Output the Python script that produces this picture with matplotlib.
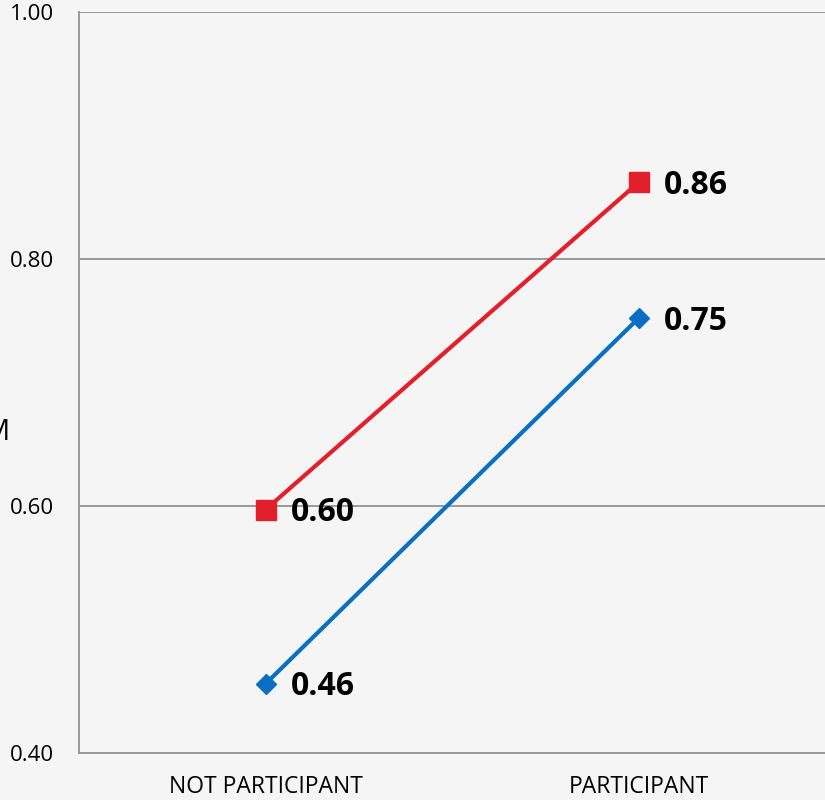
import matplotlib.pyplot as plt

# group means for the two series
categories = ['NOT PARTICIPANT', 'PARTICIPANT']
red_vals = [0.597, 0.862]
blue_vals = [0.456, 0.752]
y_ticks = [0.40, 0.60, 0.80, 1.00]

plt.rcParams['font.family'] = ['Open Sans', 'DejaVu Sans']

bg = '#f5f5f5'
fig = plt.figure(figsize=(8.25, 8.0), dpi=100, facecolor=bg)
ax = fig.add_axes([79 / 825, 47 / 800, 1 - 79 / 825, 741 / 800])
ax.set_facecolor(bg)

x = list(range(len(categories)))
ax.plot(x, red_vals, color='#e2202b', lw=3, marker='s', ms=14,
        zorder=3, clip_on=False)
ax.plot(x, blue_vals, color='#0a6fc2', lw=3, marker='D', ms=10,
        zorder=3, clip_on=False)

# value labels next to each point
for vals in (red_vals, blue_vals):
    for xi, v in zip(x, vals):
        ax.annotate(f'{v:.2f}', (xi, v), xytext=(18, -2),
                    textcoords='offset points', ha='left', va='center',
                    fontsize=23, fontweight='bold', color='black')

ax.set_xlim(-0.5, 1.5)
ax.set_ylim(0.40, 1.00)
ax.set_yticks(y_ticks)
ax.set_yticklabels([f'{t:.2f}' for t in y_ticks])
ax.set_xticks(x)
ax.set_xticklabels(categories)
ax.tick_params(axis='y', length=0, pad=18, labelsize=16)
ax.tick_params(axis='x', length=0, pad=16, labelsize=16.5)

ax.grid(axis='y', color='#999999', lw=1.4)
ax.set_axisbelow(True)
for side in ('top', 'right'):
    ax.spines[side].set_visible(False)
for side in ('left', 'bottom'):
    ax.spines[side].set_color('#999999')
    ax.spines[side].set_linewidth(1.4)

fig.text(9.5 / 825, 1 - 432 / 800, 'M', ha='right', va='center', fontsize=21)

fig.savefig('out.png', dpi=100, facecolor=bg)
